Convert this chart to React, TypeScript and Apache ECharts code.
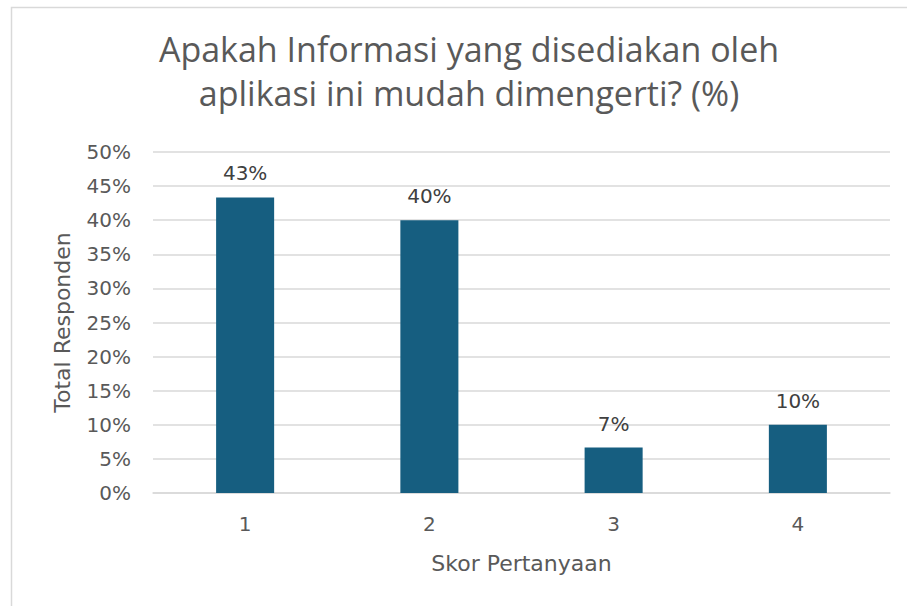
import React, { useEffect, useRef } from "react";
import * as echarts from "echarts";

const categories = ["1", "2", "3", "4"];
const values = [43.33, 40.0, 6.67, 10.0];
const valueLabels = ["43%", "40%", "7%", "10%"];
const titleLines = ["Apakah Informasi yang disediakan oleh", "aplikasi ini mudah dimengerti? (%)"];

export default function App() {
  const ref = useRef<HTMLDivElement>(null);
  useEffect(() => {
    document.body.style.margin = "0";
    const chart = echarts.init(ref.current!, null, { renderer: "svg" });
    const font = "'Open Sans', 'Noto Sans', sans-serif";
    const font2 = "'DejaVu Sans', sans-serif";
    chart.setOption({
      animation: false,
      backgroundColor: "#ffffff",
      textStyle: { fontFamily: font2 },
      title: {
        text: titleLines.join("\n"),
        left: 464,
        textAlign: "center",
        top: 22,
        textStyle: { fontSize: 34, fontWeight: "normal", color: "#595959", lineHeight: 44, fontFamily: font },
      },
      graphic: [
        {
          type: "rect",
          shape: { x: 11.5, y: 7.5, width: 1000, height: 1000 },
          style: { fill: "none", stroke: "#d9d9d9", lineWidth: 1.5 },
          silent: true,
          z: -1,
        },
      ],
      grid: { left: 153, right: 17, top: 152, bottom: 113, containLabel: false },
      xAxis: {
        type: "category",
        data: categories,
        axisLine: { show: true, lineStyle: { color: "#d9d9d9", width: 1.5 } },
        axisTick: { show: false },
        axisLabel: { fontSize: 20, color: "#595959", margin: 21, fontFamily: font2 },
        name: "Skor Pertanyaan",
        nameLocation: "middle",
        nameGap: 59,
        nameTextStyle: { fontSize: 22, color: "#595959", fontFamily: font2 },
      },
      yAxis: {
        type: "value",
        min: 0,
        max: 50,
        interval: 5,
        axisLine: { show: false },
        axisTick: { show: false },
        splitLine: { lineStyle: { color: "#d9d9d9", width: 1.5 } },
        axisLabel: { fontSize: 20, color: "#595959", margin: 22, formatter: "{value}%", fontFamily: font2 },
        name: "Total Responden",
        nameLocation: "middle",
        nameGap: 80,
        nameRotate: 90,
        nameTextStyle: { fontSize: 22, color: "#595959", fontFamily: font2 },
      },
      series: [
        {
          type: "bar",
          data: values,
          barWidth: "31.5%",
          itemStyle: { color: "#165e80" },
          label: {
            show: true,
            position: "top",
            distance: 14,
            fontSize: 20,
            color: "#404040",
            fontFamily: font2,
            formatter: (p: any) => valueLabels[p.dataIndex],
          },
        },
      ],
    });
    return () => chart.dispose();
  }, []);
  return <div ref={ref} style={{ width: 907, height: 606 }} />;
}
